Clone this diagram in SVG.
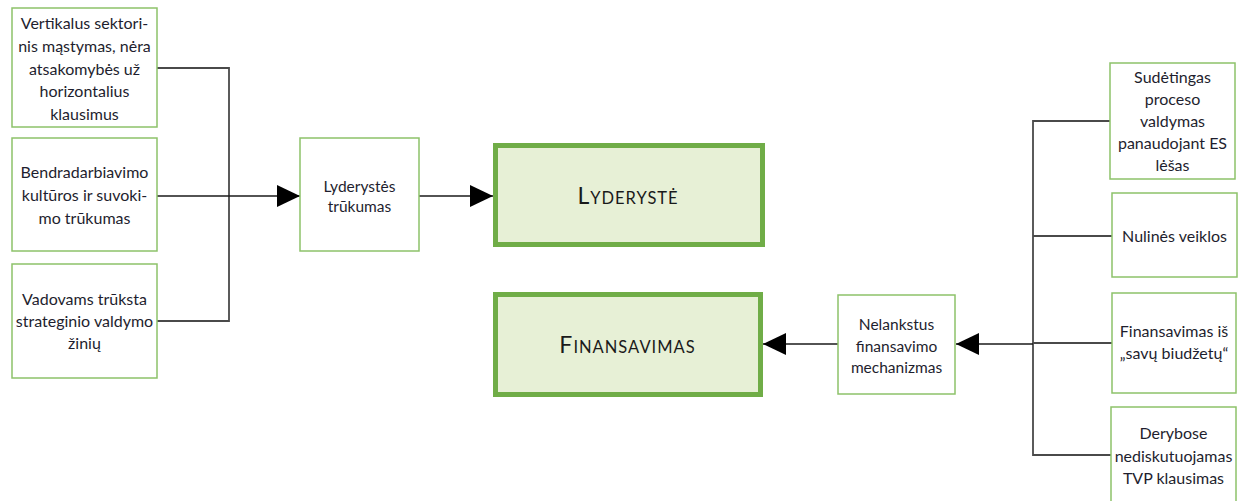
<svg xmlns="http://www.w3.org/2000/svg" width="1245" height="501" viewBox="0 0 1245 501">
  <style>
    .box { fill: #ffffff; stroke: #8dc26a; stroke-width: 1.5; }
    .main { fill: #e7f0d6; stroke: #70ad47; stroke-width: 5; }
    .t { font-family: Lato, "Liberation Sans", sans-serif; font-size: 16px; fill: #1e1e2e; text-anchor: middle; }
    .ts { font-family: Lato, "Liberation Sans", sans-serif; font-size: 15.5px; fill: #1e1e2e; text-anchor: middle; }
    .big { font-family: Lato, "Liberation Sans", sans-serif; fill: #1a1a1a; text-anchor: middle; letter-spacing: 1px; }
    .cap { font-size: 23px; }
    .sc { font-size: 16.5px; }
    .wire { fill: none; stroke: #4a4a4a; stroke-width: 1.8; }
    .arrow { fill: none; stroke: #1a1a1a; stroke-width: 1.5; marker-end: url(#head); }
  </style>
  <defs>
    <marker id="head" markerUnits="userSpaceOnUse" markerWidth="23" markerHeight="22" refX="23" refY="11" orient="auto">
      <path d="M0,0 L23,11 L0,22 Z" fill="#000000"/>
    </marker>
  </defs>

  <rect width="1245" height="501" fill="#ffffff"/>

  <g id="connectors">
    <!-- left bracket gathering three causes -->
    <path class="wire" d="M157,68 H229 V321 H157"/>
    <path class="arrow" d="M157,196 H300"/>
    <path class="arrow" d="M419,196 H493"/>
    <!-- right bracket gathering four causes -->
    <path class="wire" d="M1110,121 H1033 V455 H1111"/>
    <path class="wire" d="M1112,236 H1033"/>
    <path class="wire" d="M1112,343 H1033"/>
    <path class="arrow" d="M1033,344 H956"/>
    <path class="arrow" d="M838,344 H763"/>
  </g>

  <g id="cause-vertical">
    <rect class="box" x="12" y="8" width="145" height="119"/>
    <text class="t" x="84.5" y="29">Vertikalus sektori-</text>
    <text class="t" x="84.5" y="52">nis mąstymas, nėra</text>
    <text class="t" x="84.5" y="75">atsakomybės už</text>
    <text class="t" x="84.5" y="97">horizontalius</text>
    <text class="t" x="84.5" y="120">klausimus</text>
  </g>

  <g id="cause-culture">
    <rect class="box" x="12" y="138" width="145" height="113"/>
    <text class="t" x="84.5" y="178">Bendradarbiavimo</text>
    <text class="t" x="84.5" y="201">kultūros ir suvoki-</text>
    <text class="t" x="84.5" y="224">mo trūkumas</text>
  </g>

  <g id="cause-strategy">
    <rect class="box" x="12" y="264" width="145" height="114"/>
    <text class="t" x="84.5" y="305">Vadovams trūksta</text>
    <text class="t" x="84.5" y="327">strateginio valdymo</text>
    <text class="t" x="84.5" y="349">žinių</text>
  </g>

  <g id="leadership-gap">
    <rect class="box" x="300" y="138" width="119" height="113"/>
    <text class="ts" x="359.5" y="192">Lyderystės</text>
    <text class="ts" x="359.5" y="212">trūkumas</text>
  </g>

  <g id="leadership">
    <rect class="main" x="495.5" y="145.5" width="267" height="99"/>
    <text class="big" x="628" y="204"><tspan class="cap">L</tspan><tspan class="sc">YDERYSTĖ</tspan></text>
  </g>

  <g id="financing">
    <rect class="main" x="495.5" y="294.5" width="265" height="100"/>
    <text class="big" x="627.5" y="353"><tspan class="cap">F</tspan><tspan class="sc">INANSAVIMAS</tspan></text>
  </g>

  <g id="rigid-mechanism">
    <rect class="box" x="838" y="295" width="117" height="99"/>
    <text class="ts" x="896.5" y="330">Nelankstus</text>
    <text class="ts" x="896.5" y="352">finansavimo</text>
    <text class="ts" x="896.5" y="373">mechanizmas</text>
  </g>

  <g id="cause-eu-funds">
    <rect class="box" x="1110" y="63" width="125" height="116"/>
    <text class="t" x="1172.5" y="83">Sudėtingas</text>
    <text class="t" x="1172.5" y="105">proceso</text>
    <text class="t" x="1172.5" y="127">valdymas</text>
    <text class="t" x="1172.5" y="149">panaudojant ES</text>
    <text class="t" x="1172.5" y="171">lėšas</text>
  </g>

  <g id="cause-zero-activities">
    <rect class="box" x="1112" y="193" width="125" height="84"/>
    <text class="t" x="1174.5" y="242">Nulinės veiklos</text>
  </g>

  <g id="cause-own-budgets">
    <rect class="box" x="1112" y="293" width="124" height="100"/>
    <text class="t" x="1174" y="337">Finansavimas iš</text>
    <text class="t" x="1174" y="359">„savų biudžetų“</text>
  </g>

  <g id="cause-negotiations">
    <rect class="box" x="1111" y="407" width="125" height="100"/>
    <text class="t" x="1173.5" y="439">Derybose</text>
    <text class="t" x="1173.5" y="462">nediskutuojamas</text>
    <text class="t" x="1173.5" y="484">TVP klausimas</text>
  </g>
</svg>
